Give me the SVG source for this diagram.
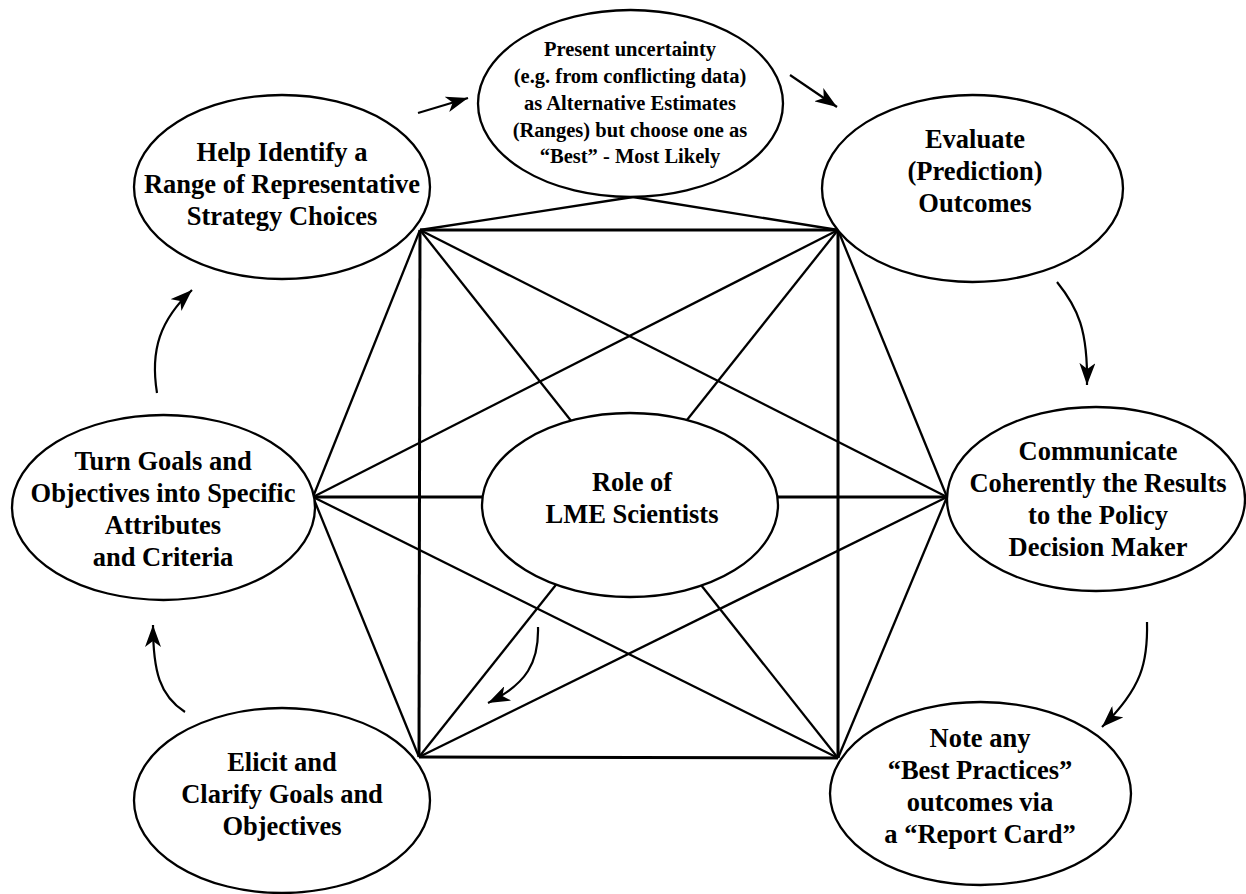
<svg xmlns="http://www.w3.org/2000/svg" width="1246" height="894" viewBox="0 0 1246 894">
  <style>
    .node { fill: #fff; stroke: #000; stroke-width: 2.3; }
    .lbl { font-family: "Liberation Serif", "Times New Roman", serif; font-weight: bold; font-size: 26.5px; fill: #000; text-anchor: middle; }
    .lbl-s { font-size: 20.5px; }
    .edge { stroke: #000; stroke-width: 2.3; fill: none; }
    .frame { stroke: #000; stroke-width: 3; fill: none; }
    .flow { stroke: #000; stroke-width: 2.2; fill: none; marker-end: url(#head); }
  </style>
  <defs>
    <marker id="head" markerUnits="userSpaceOnUse" markerWidth="24" markerHeight="16" refX="22" refY="8" orient="auto">
      <path d="M0,0 L22,8 L0,16 L6,8 z" fill="#000"/>
    </marker>
  </defs>
  <rect width="1246" height="894" fill="#fff"/>

  <!-- straight links between the outer nodes, the square frame and the diagonals -->
  <g id="connectors">
    <line class="frame" x1="420" y1="230" x2="838" y2="230"/>
    <line class="frame" x1="420" y1="230" x2="419" y2="757"/>
    <line class="frame" x1="838" y1="230" x2="838" y2="758"/>
    <line class="frame" x1="419" y1="757" x2="838" y2="758"/>
    <line class="frame" x1="313" y1="497" x2="947" y2="497"/>
    <line class="edge" x1="633" y1="197" x2="420" y2="230"/>
    <line class="edge" x1="633" y1="197" x2="838" y2="230"/>
    <line class="edge" x1="313" y1="497" x2="420" y2="230"/>
    <line class="edge" x1="313" y1="497" x2="419" y2="757"/>
    <line class="edge" x1="947" y1="497" x2="838" y2="230"/>
    <line class="edge" x1="947" y1="497" x2="838" y2="758"/>
    <line class="edge" x1="420" y1="230" x2="947" y2="497"/>
    <line class="edge" x1="838" y1="230" x2="313" y2="497"/>
    <line class="edge" x1="419" y1="757" x2="947" y2="497"/>
    <line class="edge" x1="838" y1="758" x2="313" y2="497"/>
    <line class="edge" x1="420" y1="230" x2="838" y2="758"/>
    <line class="edge" x1="838" y1="230" x2="419" y2="757"/>

    <!-- cycle arrows -->
    <path class="flow" d="M418,113 L468,98"/>
    <path class="flow" d="M790,75 L837,107"/>
    <path class="flow" d="M1057,282 C1078,308 1088,330 1087,385"/>
    <path class="flow" d="M1147,622 C1148,662 1142,688 1102,727"/>
    <path class="flow" d="M538,627 C539,662 527,684 488,703"/>
    <path class="flow" d="M185,712 C160,696 153,672 153,625"/>
    <path class="flow" d="M157,393 C150,350 160,320 192,290"/>
  </g>

  <g id="node-uncertainty">
    <ellipse class="node" cx="630.5" cy="103.5" rx="152.5" ry="93.5"/>
    <text class="lbl lbl-s" x="630" y="56">Present uncertainty</text>
    <text class="lbl lbl-s" x="630" y="83">(e.g. from conflicting data)</text>
    <text class="lbl lbl-s" x="630" y="110">as Alternative Estimates</text>
    <text class="lbl lbl-s" x="630" y="137">(Ranges) but choose one as</text>
    <text class="lbl lbl-s" x="630" y="163">“Best” - Most Likely</text>
  </g>

  <g id="node-strategy">
    <ellipse class="node" cx="282" cy="187" rx="148" ry="92"/>
    <text class="lbl" x="282" y="161">Help Identify a</text>
    <text class="lbl" x="282" y="193">Range of Representative</text>
    <text class="lbl" x="282" y="225">Strategy Choices</text>
  </g>

  <g id="node-evaluate">
    <ellipse class="node" cx="972.5" cy="188.5" rx="150.5" ry="93.5"/>
    <text class="lbl" x="975" y="148">Evaluate</text>
    <text class="lbl" x="975" y="180">(Prediction)</text>
    <text class="lbl" x="975" y="212">Outcomes</text>
  </g>

  <g id="node-attributes">
    <ellipse class="node" cx="163.5" cy="507.5" rx="151.5" ry="92.5"/>
    <text class="lbl" x="163" y="470">Turn Goals and</text>
    <text class="lbl" x="163" y="502">Objectives into Specific</text>
    <text class="lbl" x="163" y="534">Attributes</text>
    <text class="lbl" x="163" y="566">and Criteria</text>
  </g>

  <g id="node-role">
    <ellipse class="node" cx="630" cy="505" rx="148" ry="92"/>
    <text class="lbl" x="632" y="491">Role of</text>
    <text class="lbl" x="632" y="523">LME Scientists</text>
  </g>

  <g id="node-communicate">
    <ellipse class="node" cx="1096" cy="499" rx="149" ry="92"/>
    <text class="lbl" x="1098" y="460">Communicate</text>
    <text class="lbl" x="1098" y="492">Coherently the Results</text>
    <text class="lbl" x="1098" y="524">to the Policy</text>
    <text class="lbl" x="1098" y="556">Decision Maker</text>
  </g>

  <g id="node-goals">
    <ellipse class="node" cx="282" cy="800.5" rx="148" ry="92.5"/>
    <text class="lbl" x="282" y="771">Elicit and</text>
    <text class="lbl" x="282" y="803">Clarify Goals and</text>
    <text class="lbl" x="282" y="835">Objectives</text>
  </g>

  <g id="node-report">
    <ellipse class="node" cx="980.5" cy="793.5" rx="150.5" ry="91.5"/>
    <text class="lbl" x="980" y="747">Note any</text>
    <text class="lbl" x="980" y="779">“Best Practices”</text>
    <text class="lbl" x="980" y="811">outcomes via</text>
    <text class="lbl" x="980" y="843">a “Report Card”</text>
  </g>
</svg>
